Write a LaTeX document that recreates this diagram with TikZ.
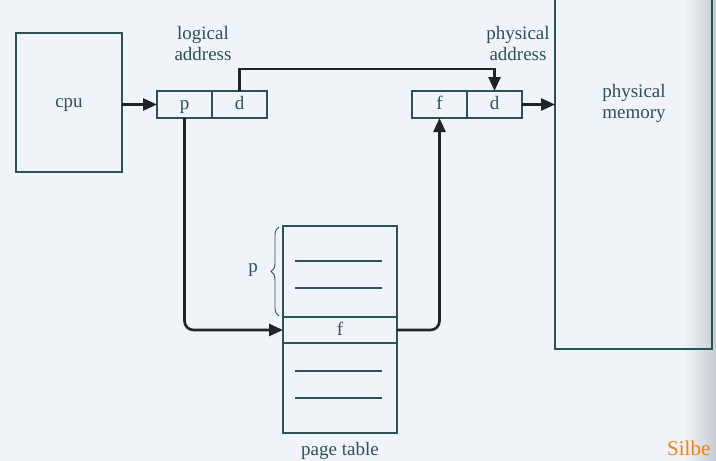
\documentclass[tikz,border=0pt]{standalone}
\usepackage{fontspec}
\setmainfont{Liberation Serif}
\usetikzlibrary{positioning,decorations.pathreplacing,arrows.meta}
\definecolor{paper}{RGB}{240,243,248}
\definecolor{shade}{RGB}{200,203,209}
\definecolor{ink}{RGB}{44,82,88}
\definecolor{wire}{RGB}{28,38,40}
\definecolor{silbe}{RGB}{238,128,20}

\begin{document}
\begin{tikzpicture}[x=1pt,y=-1pt,
    box/.style={draw=ink,line width=1.2pt,inner sep=0pt,outer sep=0pt,text=ink,
        text height=11pt,text depth=1pt,font=\fontsize{19}{21}\selectfont},
    cell/.style={box,minimum width=55pt,minimum height=27pt},
    link/.style={draw=wire,line width=2.6pt,rounded corners=9pt,-{Triangle[length=14pt,width=12pt]}},
    lbl/.style={align=center,text=ink,font=\fontsize{19}{21}\selectfont}]
    \clip (0,0) rectangle (716,461);
    \fill[paper] (0,0) rectangle (716,461);
    \shade[left color=paper,right color=shade] (684,0) rectangle (716,461);

    % cpu and logical address
    \node[box,minimum width=106pt,minimum height=139pt] (cpu) at (69,102.5) {cpu};
    \node[cell] (p) at (184.5,104.5) {p};
    \node[cell,right=0pt of p] (d) {d};
    \node[lbl] (logical) at (203,43) {logical\\address};

    % physical address and memory
    \node[cell] (f) at (439.5,104.5) {f};
    \node[cell,right=0pt of f] (d2) {d};
    \node[lbl] (physaddr) at (518,43) {physical\\address};
    \node[box,minimum width=157pt,minimum height=389pt] (mem) at (633.5,154.5) {};
    \node[lbl] (memlbl) at (634,103) {physical\\memory};

    % page table
    \node[box,minimum width=114pt,minimum height=207pt] (pt) at (340,329.5) {};
    \node[box,minimum width=114pt,minimum height=26pt] (frow) at (340,330) {f};
    \foreach \y in {261,288,371,398}
        \draw[ink,line width=1.2pt] (295,\y) -- (382,\y);
    \draw[ink,line width=0.9pt,decorate,decoration={brace,amplitude=8pt}] (279,316) -- (279,227);
    \node[lbl] (plbl) at (253,270) {p};
    \node[lbl,below=6pt of pt] (ptlbl) {page table};

    % connectors
    \draw[link] (cpu.east |- p.west) -- (p.west);
    \draw[link,rounded corners=0pt] (d.north) -- ++(0,-22) -| (d2.north);
    \draw[link] (d2.east) -- (mem.west |- d2.east);
    \draw[link] (p.south) |- (frow.west);
    \draw[link] (frow.east) -| (f.south);

    \node[anchor=base west,inner sep=0pt,text=silbe,font=\fontsize{21}{23}\selectfont] (silbe) at (667,455) {Silbe};
\end{tikzpicture}
\end{document}
